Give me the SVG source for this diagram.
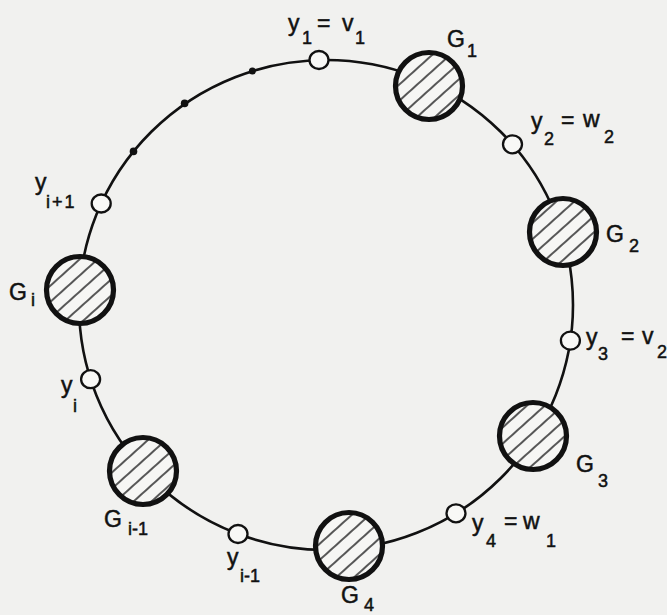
<svg xmlns="http://www.w3.org/2000/svg" width="667" height="615" viewBox="0 0 667 615">
<defs>
<pattern id="hatch" patternUnits="userSpaceOnUse" width="12" height="12" patternTransform="rotate(-42)">
<rect width="12" height="12" fill="#f6f6f4"/>
<line x1="0" y1="6" x2="12" y2="6" stroke="#222" stroke-width="1.5"/>
</pattern>
<style>
.ring{fill:none;stroke:#111;stroke-width:2.6}
.big{fill:url(#hatch);stroke:#111;stroke-width:5.2}
.small{fill:#f8f8f6;stroke:#111;stroke-width:2.3}
.dot{fill:#111}
text{font-family:"Liberation Sans",Arial,sans-serif;fill:#111;stroke:#111;stroke-width:0.5}
.m{font-size:23px}
.s{font-size:18px}
</style>
</defs>
<rect width="667" height="615" fill="#f1f1ef"/>
<g id="connectors">
<ellipse class="ring" cx="326" cy="305" rx="247" ry="245"/>
</g>
<g id="dots">
<circle class="dot" cx="133.5" cy="151.4" r="3.8"/>
<circle class="dot" cx="184.6" cy="103.4" r="3.8"/>
<circle class="dot" cx="252.4" cy="71.1" r="3.5"/>
</g>
<g id="y1">
<ellipse class="small" cx="319" cy="60" rx="9.5" ry="9"/>
<text class="m" x="288" y="31">y</text><text class="s" x="302" y="44">1</text>
<text class="m" x="317" y="31">=</text>
<text class="m" x="342" y="31">v</text><text class="s" x="355" y="44">1</text>
</g>
<g id="G1">
<circle class="big" cx="429" cy="86" r="33.5"/>
<text class="m" x="447" y="47">G</text><text class="s" x="467" y="57">1</text>
</g>
<g id="y2">
<ellipse class="small" cx="512.5" cy="144.3" rx="9.5" ry="9"/>
<text class="m" x="531" y="129">y</text><text class="s" x="544" y="145">2</text>
<text class="m" x="561" y="128">=</text>
<text class="m" x="583" y="127">w</text><text class="s" x="604" y="143">2</text>
</g>
<g id="G2">
<circle class="big" cx="563" cy="232" r="33.5"/>
<text class="m" x="606" y="242">G</text><text class="s" x="629" y="252">2</text>
</g>
<g id="y3">
<ellipse class="small" cx="570.4" cy="340.6" rx="9.5" ry="9"/>
<text class="m" x="586" y="345">y</text><text class="s" x="598" y="360">3</text>
<text class="m" x="621" y="344">=</text>
<text class="m" x="642" y="344">v</text><text class="s" x="657" y="358">2</text>
</g>
<g id="G3">
<circle class="big" cx="533" cy="436" r="33.5"/>
<text class="m" x="576" y="472">G</text><text class="s" x="598" y="487">3</text>
</g>
<g id="y4">
<ellipse class="small" cx="456" cy="513.3" rx="9.5" ry="9"/>
<text class="m" x="472" y="531">y</text><text class="s" x="486" y="547">4</text>
<text class="m" x="504" y="529">=</text>
<text class="m" x="523" y="529">w</text><text class="s" x="546" y="547">1</text>
</g>
<g id="G4">
<circle class="big" cx="349" cy="546" r="33.5"/>
<text class="m" x="341" y="603">G</text><text class="s" x="364" y="611">4</text>
</g>
<g id="y_i-1">
<ellipse class="small" cx="238" cy="534" rx="9.5" ry="9"/>
<text class="m" x="227" y="565">y</text><text class="s" x="240" y="582">i-1</text>
</g>
<g id="G_i-1">
<circle class="big" cx="143" cy="471" r="33.5"/>
<text class="m" x="104" y="527">G</text><text class="s" x="128" y="535">i-1</text>
</g>
<g id="y_i">
<ellipse class="small" cx="90.6" cy="379.2" rx="9.5" ry="9"/>
<text class="m" x="61" y="393">y</text><text class="s" x="73" y="412">i</text>
</g>
<g id="G_i">
<circle class="big" cx="80" cy="290" r="33.5"/>
<text class="m" x="9" y="300">G</text><text class="s" x="31" y="306">i</text>
</g>
<g id="y_i+1">
<ellipse class="small" cx="101.2" cy="203.5" rx="9.5" ry="9"/>
<text class="m" x="35" y="190">y</text><text class="s" x="46" y="208" letter-spacing="2">i+1</text>
</g>
</svg>
